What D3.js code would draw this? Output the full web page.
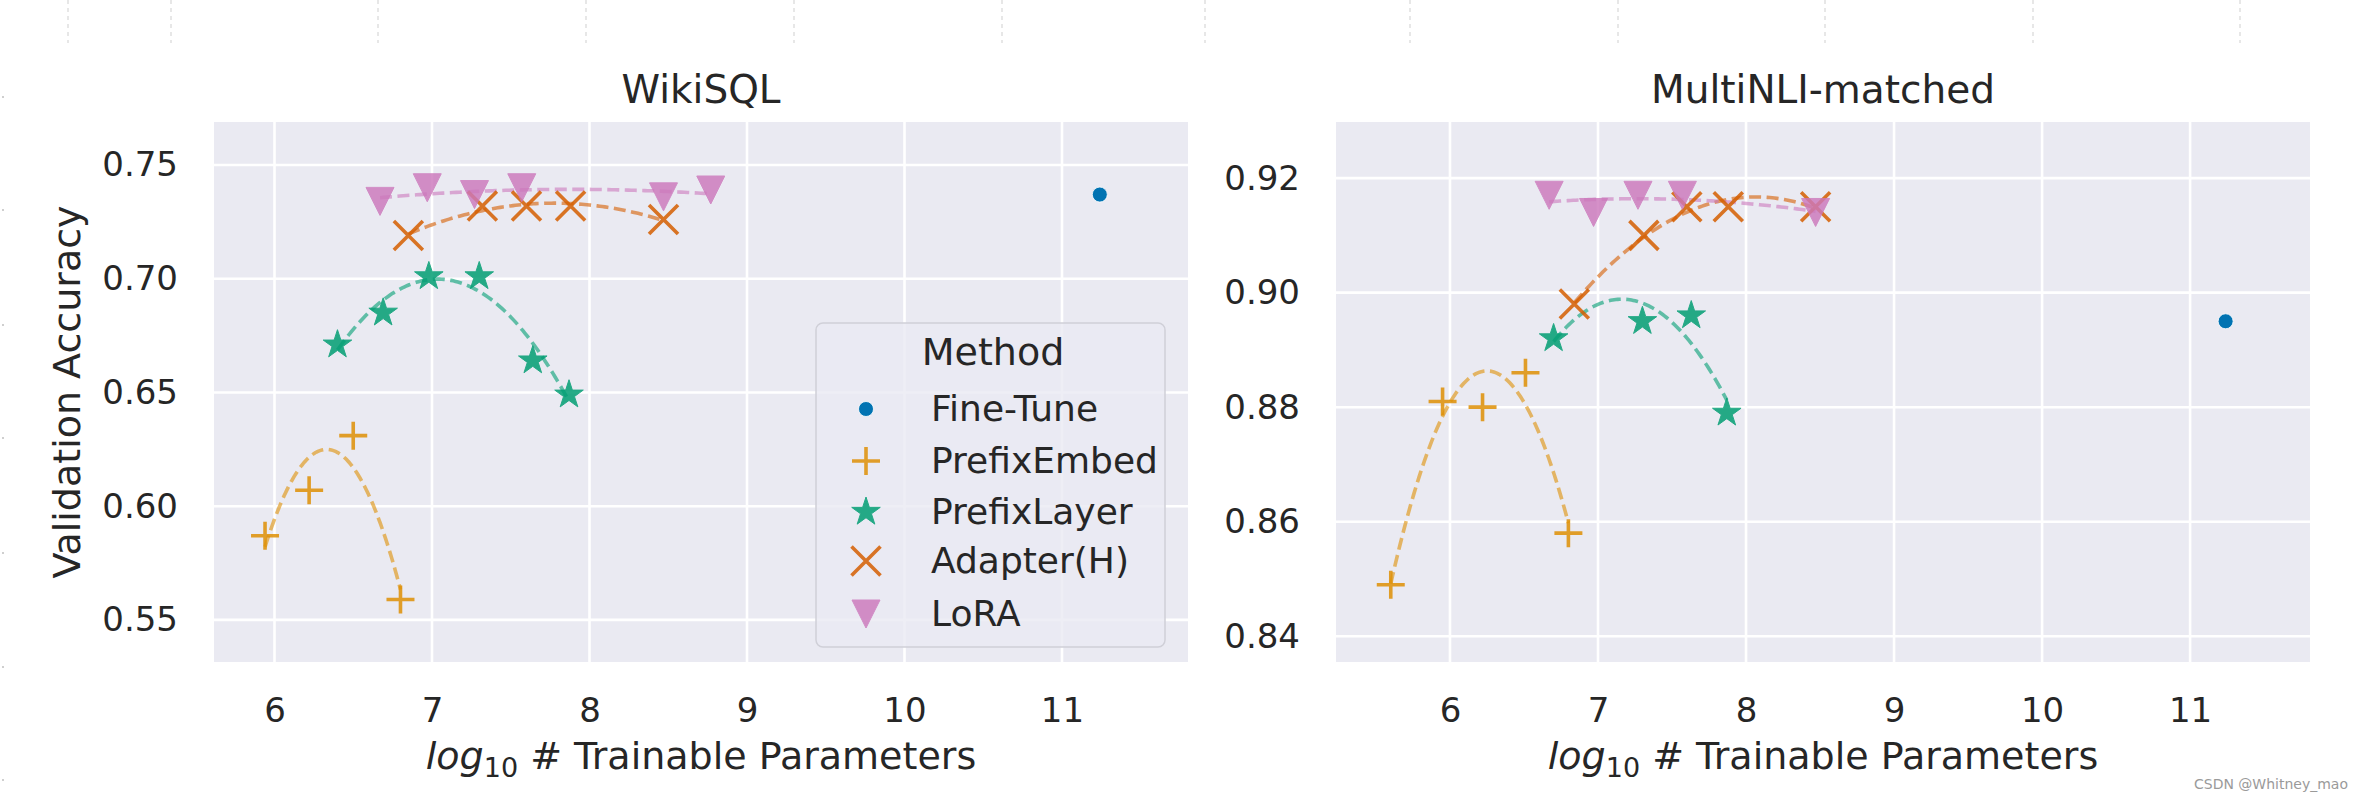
<!DOCTYPE html>
<html><head><meta charset="utf-8">
<script src="https://cdn.jsdelivr.net/npm/d3@7"></script>
<style>
html,body{margin:0;padding:0;background:#fff;}
svg{display:block;font-family:"DejaVu Sans",sans-serif;}
</style></head><body>
<svg id="chart" width="2357" height="801"></svg>
<script>
// ---------------- DATA ----------------
const methods = ["Fine-Tune", "PrefixEmbed", "PrefixLayer", "Adapter(H)", "LoRA"];
const methodColors = ["#0173b2", "#de8f05", "#029e73", "#d55e00", "#cc78bc"];
const methodMarkers = ["dot", "plus", "star", "x", "tri"];
const xTickValues = [6, 7, 8, 9, 10, 11];
const wikiYTickValues = [0.55, 0.60, 0.65, 0.70, 0.75];
const mnliYTickValues = [0.84, 0.86, 0.88, 0.90, 0.92];
const panelTitles = ["WikiSQL", "MultiNLI-matched"];

// WikiSQL (x = log10 # trainable parameters, y = validation accuracy)
const wikiFineTuneX = [11.24];
const wikiFineTuneY = [0.737];
const wikiPrefixEmbedX = [5.94, 6.22, 6.50, 6.80];
const wikiPrefixEmbedY = [0.587, 0.607, 0.631, 0.559];
const wikiPrefixLayerX = [6.40, 6.69, 6.98, 7.30, 7.64, 7.87];
const wikiPrefixLayerY = [0.671, 0.685, 0.701, 0.701, 0.664, 0.649];
const wikiAdapterX = [6.85, 7.32, 7.60, 7.88, 8.47];
const wikiAdapterY = [0.719, 0.732, 0.732, 0.732, 0.726];
const wikiLoraX = [6.67, 6.97, 7.27, 7.57, 8.47, 8.77];
const wikiLoraY = [0.734, 0.740, 0.737, 0.740, 0.736, 0.739];

// MultiNLI-matched
const mnliFineTuneX = [11.24];
const mnliFineTuneY = [0.895];
const mnliPrefixEmbedX = [5.60, 5.95, 6.22, 6.51, 6.80];
const mnliPrefixEmbedY = [0.849, 0.881, 0.880, 0.886, 0.858];
const mnliPrefixLayerX = [6.70, 7.30, 7.63, 7.87];
const mnliPrefixLayerY = [0.892, 0.895, 0.896, 0.879];
const mnliAdapterX = [6.84, 7.31, 7.60, 7.88, 8.47];
const mnliAdapterY = [0.898, 0.910, 0.915, 0.915, 0.915];
const mnliLoraX = [6.67, 6.97, 7.27, 7.57, 8.47];
const mnliLoraY = [0.917, 0.914, 0.917, 0.917, 0.914];

// ---------------- BUILD ----------------
const svg = d3.select("#chart");
const textColor = "#262626";

const panels = [
  {
    title: panelTitles[0], left: 214, right: 1188, top: 122, bottom: 662,
    xDomain: [5.616, 11.80], yDomain: [0.5315, 0.7689], yTicks: wikiYTickValues,
    series: [[wikiFineTuneX, wikiFineTuneY], [wikiPrefixEmbedX, wikiPrefixEmbedY],
             [wikiPrefixLayerX, wikiPrefixLayerY], [wikiAdapterX, wikiAdapterY], [wikiLoraX, wikiLoraY]],
    yLabel: true, legend: true
  },
  {
    title: panelTitles[1], left: 1336, right: 2310, top: 122, bottom: 662,
    xDomain: [5.23, 11.81], yDomain: [0.8355, 0.9298], yTicks: mnliYTickValues,
    series: [[mnliFineTuneX, mnliFineTuneY], [mnliPrefixEmbedX, mnliPrefixEmbedY],
             [mnliPrefixLayerX, mnliPrefixLayerY], [mnliAdapterX, mnliAdapterY], [mnliLoraX, mnliLoraY]],
    yLabel: false, legend: false
  }
];

// least-squares quadratic fit (seaborn regplot order=2)
function quadFit(xs, ys) {
  const n = xs.length;
  const m = d3.mean(xs);
  const u = xs.map(v => v - m);
  let S = [0, 0, 0, 0, 0], T = [0, 0, 0];
  for (let i = 0; i < n; i++) {
    let p = 1;
    for (let k = 0; k < 5; k++) { S[k] += p; if (k < 3) T[k] += p * ys[i]; p *= u[i]; }
  }
  const A = [[S[0], S[1], S[2], T[0]], [S[1], S[2], S[3], T[1]], [S[2], S[3], S[4], T[2]]];
  for (let c = 0; c < 3; c++) {
    let piv = c;
    for (let r = c + 1; r < 3; r++) if (Math.abs(A[r][c]) > Math.abs(A[piv][c])) piv = r;
    [A[c], A[piv]] = [A[piv], A[c]];
    for (let r = 0; r < 3; r++) {
      if (r === c) continue;
      const f = A[r][c] / A[c][c];
      for (let k = c; k < 4; k++) A[r][k] -= f * A[c][k];
    }
  }
  const coef = [A[0][3] / A[0][0], A[1][3] / A[1][1], A[2][3] / A[2][2]];
  return v => coef[0] + coef[1] * (v - m) + coef[2] * (v - m) * (v - m);
}

function starPath(R) {
  const r = R * 0.381966;
  let pts = [];
  for (let i = 0; i < 10; i++) {
    const a = -Math.PI / 2 + i * Math.PI / 5;
    const rr = i % 2 === 0 ? R : r;
    pts.push([rr * Math.cos(a), rr * Math.sin(a)]);
  }
  return "M" + pts.map(p => p[0].toFixed(2) + "," + p[1].toFixed(2)).join("L") + "Z";
}

function drawMarker(g, type, color) {
  if (type === "dot") {
    g.append("circle").attr("r", 7.5).attr("fill", color).attr("stroke", "#fff").attr("stroke-width", 0.8);
  } else if (type === "plus") {
    g.append("path").attr("d", "M-14,0H14M0,-14V14").attr("stroke", color)
      .attr("stroke-width", 3.6).attr("fill", "none").attr("opacity", 0.85);
  } else if (type === "star") {
    g.append("path").attr("d", starPath(15)).attr("fill", color).attr("stroke", color)
      .attr("stroke-width", 1).attr("stroke-linejoin", "round").attr("opacity", 0.85);
  } else if (type === "x") {
    g.append("path").attr("d", "M-14.5,-14.5L14.5,14.5M-14.5,14.5L14.5,-14.5").attr("stroke", color)
      .attr("stroke-width", 3.6).attr("fill", "none").attr("opacity", 0.85);
  } else if (type === "tri") {
    g.append("path").attr("d", "M0,14L-14,-14L14,-14Z").attr("fill", color)
      .attr("stroke", color).attr("stroke-width", 1).attr("opacity", 0.82);
  }
}

// faint screenshot artefacts at the top and left edge
const topDashX = [68, 171, 378, 586, 794, 1002, 1205, 1410, 1618, 1825, 2033, 2240];
svg.append("g").selectAll("line").data(topDashX).join("line")
  .attr("x1", d => d).attr("x2", d => d).attr("y1", 0).attr("y2", 43)
  .attr("stroke", "#d8d8d8").attr("stroke-width", 1.2).attr("stroke-dasharray", "4,4");
const leftDotY = [97, 210, 325, 438, 553, 667, 780];
svg.append("g").selectAll("rect").data(leftDotY).join("rect")
  .attr("x", 2).attr("y", d => d - 1).attr("width", 2).attr("height", 2).attr("fill", "#cfcfcf");

panels.forEach((P, pi) => {
  const x = d3.scaleLinear().domain(P.xDomain).range([P.left, P.right]);
  const y = d3.scaleLinear().domain(P.yDomain).range([P.bottom, P.top]);
  const g = svg.append("g");

  g.append("rect").attr("x", P.left).attr("y", P.top)
    .attr("width", P.right - P.left).attr("height", P.bottom - P.top).attr("fill", "#eaeaf2");

  g.append("g").selectAll("line").data(xTickValues).join("line")
    .attr("x1", d => x(d)).attr("x2", d => x(d)).attr("y1", P.top).attr("y2", P.bottom)
    .attr("stroke", "#fff").attr("stroke-width", 2.6);
  g.append("g").selectAll("line").data(P.yTicks).join("line")
    .attr("y1", d => y(d)).attr("y2", d => y(d)).attr("x1", P.left).attr("x2", P.right)
    .attr("stroke", "#fff").attr("stroke-width", 2.6);

  const xa = g.append("g").attr("transform", `translate(0,${P.bottom})`)
    .call(d3.axisBottom(x).tickValues(xTickValues).tickSize(0).tickPadding(36).tickFormat(d3.format("d")));
  const ya = g.append("g").attr("transform", `translate(${P.left},0)`)
    .call(d3.axisLeft(y).tickValues(P.yTicks).tickSize(0).tickPadding(36).tickFormat(d3.format(".2f")));
  [xa, ya].forEach(a => {
    a.select(".domain").remove();
    a.selectAll("text").attr("font-size", 34).attr("fill", textColor)
      .attr("font-family", "DejaVu Sans, sans-serif");
  });

  // title
  g.append("text").attr("x", (P.left + P.right) / 2).attr("y", 103)
    .attr("text-anchor", "middle").attr("font-size", 39).attr("fill", textColor).text(P.title);

  // x label
  const xl = g.append("text").attr("x", (P.left + P.right) / 2).attr("y", 769)
    .attr("text-anchor", "middle").attr("font-size", 38).attr("fill", textColor);
  xl.append("tspan").attr("font-style", "italic").text("log");
  xl.append("tspan").attr("font-size", 27).attr("dy", 8).text("10");
  xl.append("tspan").attr("dy", -8).text(" # Trainable Parameters");

  if (P.yLabel) {
    g.append("text").attr("transform", `translate(80,${(P.top + P.bottom) / 2}) rotate(-90)`)
      .attr("text-anchor", "middle").attr("font-size", 38).attr("fill", textColor)
      .text("Validation Accuracy");
  }

  // fits + markers
  const clip = "clip" + pi;
  svg.append("clipPath").attr("id", clip).append("rect")
    .attr("x", P.left).attr("y", P.top).attr("width", P.right - P.left).attr("height", P.bottom - P.top);
  const plot = g.append("g").attr("clip-path", `url(#${clip})`);

  P.series.forEach(([xs, ys], si) => {
    const color = methodColors[si];
    if (xs.length >= 3) {
      const f = quadFit(xs, ys);
      const x0 = d3.min(xs), x1 = d3.max(xs);
      const pts = d3.range(101).map(i => { const v = x0 + (x1 - x0) * i / 100; return [v, f(v)]; });
      plot.append("path").datum(pts)
        .attr("d", d3.line().x(d => x(d[0])).y(d => y(d[1])))
        .attr("fill", "none").attr("stroke", color).attr("stroke-width", 3.6)
        .attr("stroke-dasharray", "12,5.5").attr("opacity", 0.6);
    }
  });
  P.series.forEach(([xs, ys], si) => {
    const color = methodColors[si];
    xs.forEach((xv, i) => {
      const mg = plot.append("g").attr("transform", `translate(${x(xv)},${y(ys[i])})`);
      drawMarker(mg, methodMarkers[si], color);
    });
  });

  if (P.legend) {
    const lg = g.append("g");
    lg.append("rect").attr("x", 816).attr("y", 323).attr("width", 349).attr("height", 324)
      .attr("rx", 7).attr("fill", "#eaeaf2").attr("fill-opacity", 0.8)
      .attr("stroke", "#d0d0d8").attr("stroke-width", 1.5);
    lg.append("text").attr("x", 993).attr("y", 365).attr("text-anchor", "middle")
      .attr("font-size", 38).attr("fill", textColor).text("Method");
    const rowY = [409, 461, 512, 561, 614];
    methods.forEach((m, i) => {
      const mg = lg.append("g").attr("transform", `translate(866,${rowY[i]})`);
      drawMarker(mg, methodMarkers[i], methodColors[i]);
      lg.append("text").attr("x", 931).attr("y", rowY[i] + 12).attr("font-size", 36)
        .attr("fill", textColor).text(m);
    });
  }
});

// watermark
svg.append("text").attr("x", 2348).attr("y", 789).attr("text-anchor", "end")
  .attr("font-size", 14).attr("fill", "#9a9a9a").text("CSDN @Whitney_mao");
</script>
</body></html>
